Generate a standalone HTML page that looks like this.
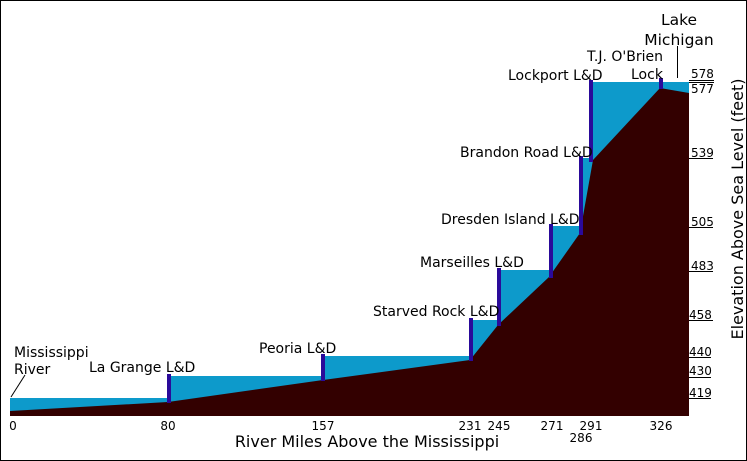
<!DOCTYPE html>
<html><head><meta charset="utf-8"><style>
html,body{margin:0;padding:0;background:#fff}
svg{display:block}
text{font-family:"DejaVu Sans","Liberation Sans",sans-serif;fill:#000}
</style></head><body>
<svg width="747" height="461" viewBox="0 0 747 461" xmlns="http://www.w3.org/2000/svg">
<rect x="0.5" y="0.5" width="746" height="460" fill="#fff" stroke="#000" stroke-width="1"/>
<g fill="#0d9acb">
<rect x="10" y="398" width="160" height="16"/>
<rect x="170" y="376" width="153" height="30"/>
<rect x="323" y="356" width="148" height="28"/>
<rect x="471" y="320" width="28" height="44"/>
<rect x="499" y="270" width="51" height="60"/>
<rect x="550" y="226" width="31" height="56"/>
<rect x="581" y="158" width="10" height="80"/>
<rect x="591" y="82" width="98" height="90"/>
</g>
<polygon fill="#330000" points="10,411 168,402 323,380 470,360 498,325 549,277 580,233 593,160 660,88 689,93 689,416 10,416"/>
<g fill="#2a0a9a">
<rect x="167" y="374" width="4" height="29"/>
<rect x="321" y="354" width="4" height="27"/>
<rect x="469" y="318" width="4" height="43"/>
<rect x="497" y="268" width="4" height="58"/>
<rect x="549" y="224" width="4" height="54"/>
<rect x="579" y="156" width="4" height="79"/>
<rect x="589" y="80" width="4" height="82"/>
<rect x="659" y="78" width="4" height="11"/>
</g>
<g stroke="#000" stroke-width="1">
<line x1="689" y1="80.5" x2="714" y2="80.5"/>
<line x1="689" y1="82.5" x2="714" y2="82.5"/>
<line x1="689" y1="158.5" x2="713" y2="158.5"/>
<line x1="689" y1="227.5" x2="713" y2="227.5"/>
<line x1="689" y1="271.5" x2="713" y2="271.5"/>
<line x1="689" y1="320.5" x2="713" y2="320.5"/>
<line x1="689" y1="357.5" x2="711" y2="357.5"/>
<line x1="689" y1="377.5" x2="711" y2="377.5"/>
<line x1="689" y1="398.5" x2="711" y2="398.5"/>
<line x1="677.5" y1="46" x2="677.5" y2="78"/>
<line x1="11" y1="397" x2="25" y2="375"/>
</g>
<g font-size="12">
<text x="691" y="78">578</text>
<text x="691" y="93">577</text>
<text x="691" y="157">539</text>
<text x="691" y="226">505</text>
<text x="691" y="270">483</text>
<text x="689" y="319">458</text>
<text x="689" y="356">440</text>
<text x="689" y="375">430</text>
<text x="689" y="397">419</text>
</g>
<g font-size="12" text-anchor="middle">
<text x="13" y="430">0</text>
<text x="168" y="430">80</text>
<text x="323" y="430">157</text>
<text x="470" y="430">231</text>
<text x="499" y="430">245</text>
<text x="552" y="430">271</text>
<text x="591" y="430">291</text>
<text x="581" y="442">286</text>
<text x="661" y="430">326</text>
</g>
<text x="367" y="447" font-size="16" text-anchor="middle">River Miles Above the Mississippi</text>
<text transform="translate(743,209) rotate(-90)" font-size="16" text-anchor="middle">Elevation Above Sea Level (feet)</text>
<g font-size="14">
<text x="14" y="357">Mississippi</text>
<text x="14" y="374">River</text>
<text x="89" y="372">La Grange L&amp;D</text>
<text x="259" y="353">Peoria L&amp;D</text>
<text x="373" y="316">Starved Rock L&amp;D</text>
<text x="420" y="267">Marseilles L&amp;D</text>
<text x="441" y="224">Dresden Island L&amp;D</text>
<text x="460" y="157">Brandon Road L&amp;D</text>
<text x="508" y="80">Lockport L&amp;D</text>
<text x="587" y="61">T.J. O'Brien</text>
<text x="631" y="79">Lock</text>
</g>
<g font-size="15.5" text-anchor="middle">
<text x="679" y="25">Lake</text>
<text x="679" y="45">Michigan</text>
</g>
</svg>
</body></html>
